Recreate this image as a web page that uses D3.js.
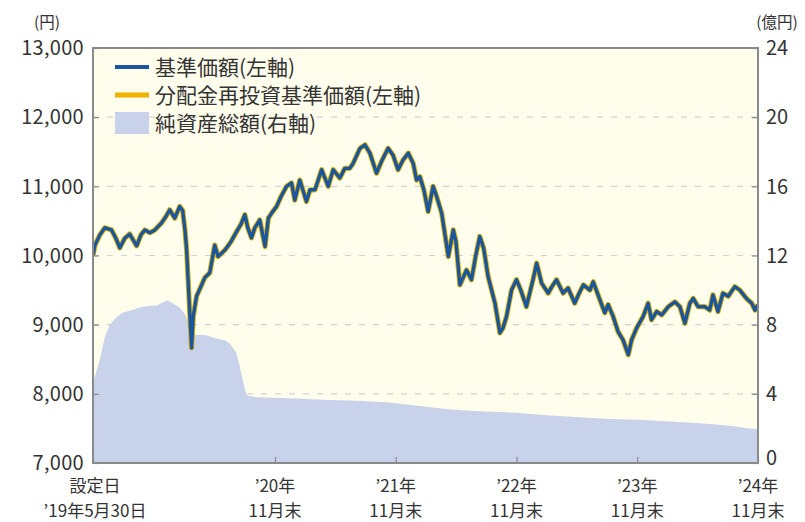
<!DOCTYPE html>
<html><head><meta charset="utf-8">
<script src="https://cdn.jsdelivr.net/npm/d3@7"></script>
<style>
body{margin:0;background:#fff;}
svg{display:block;font-family:"Noto Sans CJK JP","Noto Sans",sans-serif;}
</style>
</head><body>
<svg id="chart" width="805" height="522"></svg>
<script>
// ---- data ----
const navDates = ["2019-05-30","2019-06-05","2019-06-20","2019-07-05","2019-07-25","2019-08-07","2019-08-19","2019-09-03","2019-09-18","2019-10-09","2019-10-22","2019-11-03","2019-11-18","2019-12-03","2019-12-23","2020-01-05","2020-01-17","2020-02-01","2020-02-16","2020-02-25","2020-03-03","2020-03-08","2020-03-13","2020-03-18","2020-03-23","2020-03-28","2020-04-07","2020-04-20","2020-05-02","2020-05-17","2020-06-01","2020-06-11","2020-07-02","2020-07-20","2020-08-06","2020-08-19","2020-08-31","2020-09-09","2020-09-20","2020-09-30","2020-10-15","2020-10-31","2020-11-10","2020-11-21","2020-12-05","2020-12-18","2021-01-04","2021-01-19","2021-01-29","2021-02-13","2021-03-05","2021-03-16","2021-03-31","2021-04-20","2021-05-10","2021-05-25","2021-06-14","2021-06-29","2021-07-14","2021-07-24","2021-08-14","2021-08-29","2021-09-13","2021-10-03","2021-10-18","2021-11-07","2021-11-22","2021-12-07","2021-12-22","2022-01-07","2022-01-22","2022-02-01","2022-02-11","2022-02-23","2022-03-08","2022-03-23","2022-04-03","2022-04-18","2022-05-08","2022-05-23","2022-05-31","2022-06-12","2022-07-02","2022-07-17","2022-07-30","2022-08-11","2022-08-23","2022-09-05","2022-09-26","2022-10-11","2022-10-20","2022-10-31","2022-11-15","2022-11-30","2022-12-13","2022-12-30","2023-01-19","2023-01-30","2023-02-14","2023-03-06","2023-03-17","2023-03-31","2023-04-20","2023-05-05","2023-05-25","2023-06-07","2023-06-20","2023-07-10","2023-07-20","2023-08-09","2023-08-24","2023-09-03","2023-09-18","2023-10-03","2023-10-18","2023-11-03","2023-11-13","2023-11-28","2023-12-18","2024-01-02","2024-01-12","2024-01-28","2024-02-12","2024-03-03","2024-03-23","2024-04-07","2024-04-22","2024-05-07","2024-05-17","2024-06-01","2024-06-21","2024-07-06","2024-07-16","2024-07-31","2024-08-15","2024-08-31","2024-09-20","2024-10-05","2024-10-25","2024-11-10","2024-11-20","2024-11-29"];
const navValues = [10000,10150,10300,10400,10370,10250,10110,10250,10310,10140,10300,10370,10330,10370,10470,10560,10660,10540,10710,10650,10370,10080,9600,9120,8665,9120,9410,9550,9680,9750,10150,9985,10080,10200,10345,10450,10590,10400,10255,10400,10515,10130,10540,10620,10710,10850,11000,11050,10800,11090,10780,10950,10950,11240,11000,11240,11120,11260,11260,11330,11550,11600,11480,11190,11360,11550,11450,11240,11380,11480,11330,11090,11140,10950,10635,11000,10850,10610,9985,10370,10200,9575,9790,9650,10000,10275,10100,9700,9310,8880,8950,9120,9500,9650,9500,9260,9650,9890,9600,9455,9550,9650,9455,9530,9310,9450,9575,9500,9620,9360,9170,9290,9120,8900,8780,8565,8780,8950,9120,9310,9070,9190,9140,9260,9330,9260,9020,9310,9380,9260,9260,9210,9430,9190,9455,9410,9550,9500,9380,9310,9210,9290];
// 分配金再投資基準価額 (no distributions -> identical to 基準価額)
const reinvestValues = navValues.slice();

const assetDates = ["2019-05-30","2019-06-05","2019-06-20","2019-07-05","2019-07-20","2019-08-07","2019-08-28","2019-09-18","2019-10-19","2019-11-18","2019-12-09","2019-12-27","2020-01-11","2020-01-29","2020-02-16","2020-03-03","2020-03-18","2020-04-05","2020-05-05","2020-06-04","2020-07-02","2020-07-17","2020-08-04","2020-08-13","2020-08-22","2020-08-31","2020-09-06","2020-10-03","2021-01-14","2021-05-15","2021-08-05","2021-11-12","2022-02-11","2022-05-13","2022-08-11","2022-11-25","2023-03-11","2023-06-10","2023-09-09","2023-12-02","2024-03-08","2024-06-06","2024-09-05","2024-11-04","2024-11-29"];
const assetValues = [4.6,5.0,6.0,7.3,8.0,8.4,8.7,8.8,9.0,9.1,9.1,9.3,9.4,9.2,9.0,8.6,7.9,7.4,7.4,7.2,7.1,6.9,6.4,5.8,5.0,4.3,3.9,3.8,3.75,3.65,3.6,3.5,3.3,3.1,3.0,2.9,2.75,2.65,2.55,2.5,2.4,2.3,2.15,2.0,1.95];

const leftTicks = [7000,8000,9000,10000,11000,12000,13000];
const rightTicks = [0,4,8,12,16,20,24];
const xTickDates = ["2019-05-30","2020-11-30","2021-11-30","2022-11-30","2023-11-30","2024-11-29"];
const xTickLabels = [["設定日","’19年5月30日"],["’20年","11月末"],["’21年","11月末"],["’22年","11月末"],["’23年","11月末"],["’24年","11月末"]];
const legendLabels = ["基準価額(左軸)","分配金再投資基準価額(左軸)","純資産総額(右軸)"];
const leftUnit = "(円)", rightUnit = "(億円)";

// ---- layout ----
const L = 93, R = 758, T = 48, B = 463;
const parse = d3.timeParse("%Y-%m-%d");
const svg = d3.select("#chart");
const x = d3.scaleTime().domain([parse("2019-05-30"), parse("2024-11-29")]).range([L, R]);
const yL = d3.scaleLinear().domain([7000, 13000]).range([B, T]);
const yR = d3.scaleLinear().domain([0, 24]).range([B, T]);

const textColor = "#333";
const axisColor = "#8a8a8a";

svg.append("rect").attr("x", L).attr("y", T).attr("width", R - L).attr("height", B - T).attr("fill", "#fffdec");

svg.append("defs").append("clipPath").attr("id", "clip")
  .append("rect").attr("x", L).attr("y", T).attr("width", R - L).attr("height", B - T);

// grid lines
svg.append("g").selectAll("line").data(leftTicks.slice(1, -1)).join("line")
  .attr("x1", L).attr("x2", R).attr("y1", d => yL(d)).attr("y2", d => yL(d))
  .attr("stroke", "#d2d2d2").attr("stroke-width", 1.2).attr("stroke-dasharray", "6,8");

// area (net assets)
const assets = assetDates.map((d, i) => ({date: parse(d), v: assetValues[i]}));
svg.append("path").datum(assets)
  .attr("clip-path", "url(#clip)")
  .attr("fill", "#c8d2ea")
  .attr("d", d3.area().x(d => x(d.date)).y0(yR(0)).y1(d => yR(d.v)));

// lines
const nav = navDates.map((d, i) => ({date: parse(d), v: navValues[i], r: reinvestValues[i]}));
const g = svg.append("g").attr("clip-path", "url(#clip)");
g.append("path").datum(nav).attr("fill", "none").attr("stroke", "#d9b000").attr("stroke-width", 5.2)
  .attr("stroke-linejoin", "round")
  .attr("d", d3.line().x(d => x(d.date)).y(d => yL(d.r)));
g.append("path").datum(nav).attr("fill", "none").attr("stroke", "#1b559e").attr("stroke-width", 3.4)
  .attr("stroke-linejoin", "round")
  .attr("d", d3.line().x(d => x(d.date)).y(d => yL(d.v)));

// axes
const axL = svg.append("g").attr("transform", `translate(${L},0)`)
  .call(d3.axisRight(yL).tickValues(leftTicks).tickSize(6).tickFormat(""));
const axR = svg.append("g").attr("transform", `translate(${R},0)`)
  .call(d3.axisLeft(yR).tickValues(rightTicks).tickSize(6).tickFormat(""));
const axB = svg.append("g").attr("transform", `translate(0,${B})`)
  .call(d3.axisTop(x).tickValues(xTickDates.map(parse)).tickSize(6).tickFormat(""));
[axL, axR, axB].forEach(a => {
  a.select(".domain").remove();
  a.selectAll(".tick line").attr("stroke", axisColor).attr("stroke-width", 1.2);
});

// frame
svg.append("rect").attr("x", L).attr("y", T).attr("width", R - L).attr("height", B - T)
  .attr("fill", "none").attr("stroke", axisColor).attr("stroke-width", 2);

// tick labels
const fmt = d3.format(",");
svg.append("g").selectAll("text").data(leftTicks).join("text")
  .attr("x", L - 9).attr("y", d => yL(d)).attr("dy", "0.36em")
  .attr("text-anchor", "end").attr("fill", textColor).attr("font-size", 20)
  .attr("letter-spacing", "0.3px")
  .text(d => fmt(d));
svg.append("g").selectAll("text").data(rightTicks).join("text")
  .attr("x", R + 8).attr("y", d => yR(d) - (d === 0 ? 5 : 0)).attr("dy", "0.36em")
  .attr("text-anchor", "start").attr("fill", textColor).attr("font-size", 20)
  .text(d => d);

const xl = svg.append("g").selectAll("text").data(xTickDates).join("text")
  .attr("text-anchor", "middle").attr("fill", textColor).attr("font-size", 17)
  .attr("transform", (d, i) => `translate(${x(parse(d)) + (i === 0 ? 2 : 0)},0)`);
xl.append("tspan").attr("x", 0).attr("y", 492).text((d, i) => xTickLabels[i][0]);
xl.append("tspan").attr("x", 0).attr("y", 516.5).text((d, i) => xTickLabels[i][1]);

svg.append("text").attr("x", 47).attr("y", 28).attr("text-anchor", "middle")
  .attr("fill", textColor).attr("font-size", 15.5).text(leftUnit);
svg.append("text").attr("x", 777).attr("y", 28).attr("text-anchor", "middle")
  .attr("fill", textColor).attr("font-size", 15.5).text(rightUnit);

// legend
const lg = svg.append("g");
const rowY = [67, 95, 123];
const lx = 115, lw = 34;
lg.append("line").attr("x1", lx).attr("x2", lx + lw).attr("y1", rowY[0]).attr("y2", rowY[0])
  .attr("stroke", "#1b559e").attr("stroke-width", 4);
lg.append("line").attr("x1", lx).attr("x2", lx + lw).attr("y1", rowY[1]).attr("y2", rowY[1])
  .attr("stroke", "#f0b400").attr("stroke-width", 5);
lg.append("rect").attr("x", lx).attr("y", rowY[2] - 11).attr("width", lw).attr("height", 22)
  .attr("fill", "#c8d2ea");
lg.selectAll("text").data(legendLabels).join("text")
  .attr("x", 155).attr("y", (d, i) => rowY[i]).attr("dy", "0.36em")
  .attr("fill", textColor).attr("font-size", 21)
  .text(d => d);
</script>
</body></html>
